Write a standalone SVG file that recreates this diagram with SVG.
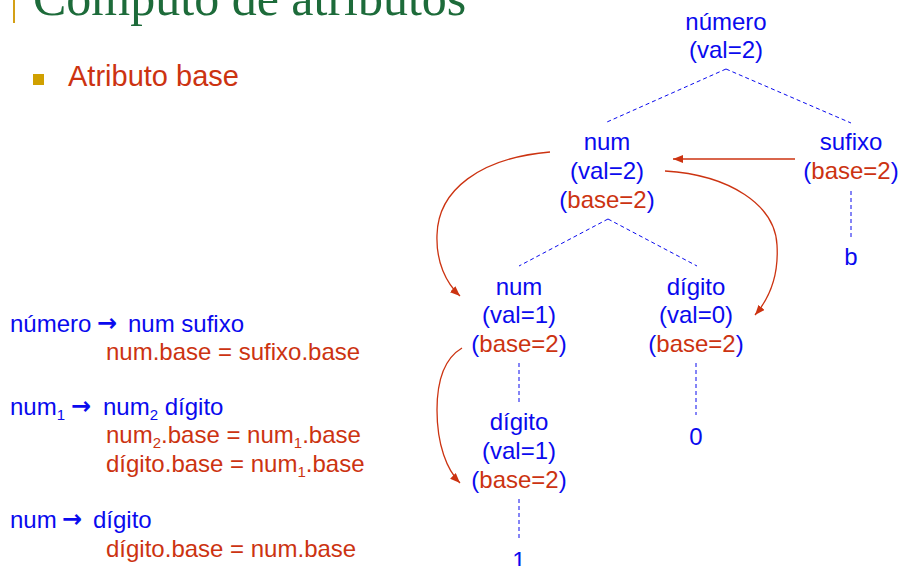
<svg xmlns="http://www.w3.org/2000/svg" width="900" height="566" viewBox="0 0 900 566">
  <style>
    .title { font-family: "Liberation Serif", "Times New Roman", serif; font-size: 50px; fill: #1D6B3A; }
    .sub { font-family: "Liberation Sans", Arial, sans-serif; font-size: 29px; fill: #CC3311; }
    .t { font-family: "Liberation Sans", Arial, sans-serif; font-size: 24px; fill: #0A0AEE; }
    .n { text-anchor: middle; }
    .o { fill: #CC3311; }
    .arr { font-family: "DejaVu Sans", sans-serif; font-weight: bold; font-size: 24px; fill: #0A0AEE; }
    .tree { stroke: #0A0AEE; stroke-width: 1; stroke-dasharray: 4 3; fill: none; }
    .dep { stroke: #CC3311; stroke-width: 1.3; fill: none; marker-end: url(#head); }
  </style>
  <defs>
    <marker id="head" viewBox="0 0 10 8" refX="10" refY="4" markerWidth="10" markerHeight="8" markerUnits="userSpaceOnUse" orient="auto">
      <path d="M0,0 L10,4 L0,8 z" fill="#CC3311"/>
    </marker>
  </defs>

  <!-- slide header -->
  <rect x="13" y="0" width="2" height="23" fill="#D4A017"/>
  <text class="title" x="33" y="15">Cómputo de atributos</text>
  <rect x="33" y="74" width="11" height="11" fill="#D0A000"/>
  <text class="sub" x="68" y="86">Atributo base</text>

  <!-- grammar rules -->
  <g id="rules">
    <text class="t" x="10" y="332">número</text>
    <text class="arr" x="97" y="331">→</text>
    <text class="t" x="128" y="332">num sufixo</text>
    <text class="t o" x="106" y="360">num.base = sufixo.base</text>

    <text class="t" x="10" y="415">num<tspan font-size="15" dy="5">1</tspan></text>
    <text class="arr" x="71" y="414">→</text>
    <text class="t" x="103" y="415">num<tspan font-size="15" dy="5">2</tspan><tspan dy="-5"> dígito</tspan></text>
    <text class="t o" x="106" y="443">num<tspan font-size="15" dy="5">2</tspan><tspan dy="-5">.base = num</tspan><tspan font-size="15" dy="5">1</tspan><tspan dy="-5">.base</tspan></text>
    <text class="t o" x="106" y="472">dígito.base = num<tspan font-size="15" dy="5">1</tspan><tspan dy="-5">.base</tspan></text>

    <text class="t" x="10" y="528">num</text>
    <text class="arr" x="62" y="527">→</text>
    <text class="t" x="93" y="528">dígito</text>
    <text class="t o" x="106" y="557">dígito.base = num.base</text>
  </g>

  <!-- parse tree edges and attribute dependencies -->
  <g id="connectors">
    <path class="tree" d="M726,69 L607,122 M726,69 L851,123"/>
    <path class="tree" d="M608,219 L519,266 M608,219 L697,266"/>
    <path class="tree" d="M851,191 L851,237"/>
    <path class="tree" d="M519,363 L519,402 M519,499 L519,538"/>
    <path class="tree" d="M696,363 L696,415"/>

    <path class="dep" d="M795,159 L673,159"/>
    <path class="dep" d="M550,152 C480,158 438,190 437,235 C436,262 446,283 460,296"/>
    <path class="dep" d="M665,171 C730,175 775,205 777,245 C779,278 768,300 755,315"/>
    <path class="dep" d="M462,348 C445,358 437,380 437,410 C437,445 447,470 460,483"/>
  </g>

  <!-- tree nodes -->
  <g id="numero">
    <text class="t n" x="726" y="30">número</text>
    <text class="t n" x="726" y="58">(val=2)</text>
  </g>
  <g id="num-top">
    <text class="t n" x="607" y="150">num</text>
    <text class="t n" x="607" y="179">(val=2)</text>
    <text class="t n" x="607" y="208">(<tspan class="o">base=2</tspan>)</text>
  </g>
  <g id="sufixo">
    <text class="t n" x="851" y="150">sufixo</text>
    <text class="t n" x="851" y="179">(<tspan class="o">base=2</tspan>)</text>
  </g>
  <g id="leaf-b">
    <text class="t n" x="851" y="265">b</text>
  </g>
  <g id="num-mid">
    <text class="t n" x="519" y="295">num</text>
    <text class="t n" x="519" y="323">(val=1)</text>
    <text class="t n" x="519" y="352">(<tspan class="o">base=2</tspan>)</text>
  </g>
  <g id="digito-right">
    <text class="t n" x="696" y="295">dígito</text>
    <text class="t n" x="696" y="323">(val=0)</text>
    <text class="t n" x="696" y="352">(<tspan class="o">base=2</tspan>)</text>
  </g>
  <g id="leaf-0">
    <text class="t n" x="696" y="445">0</text>
  </g>
  <g id="digito-low">
    <text class="t n" x="519" y="430">dígito</text>
    <text class="t n" x="519" y="459">(val=1)</text>
    <text class="t n" x="519" y="488">(<tspan class="o">base=2</tspan>)</text>
  </g>
  <g id="leaf-1">
    <text class="t n" x="519" y="569">1</text>
  </g>
</svg>
